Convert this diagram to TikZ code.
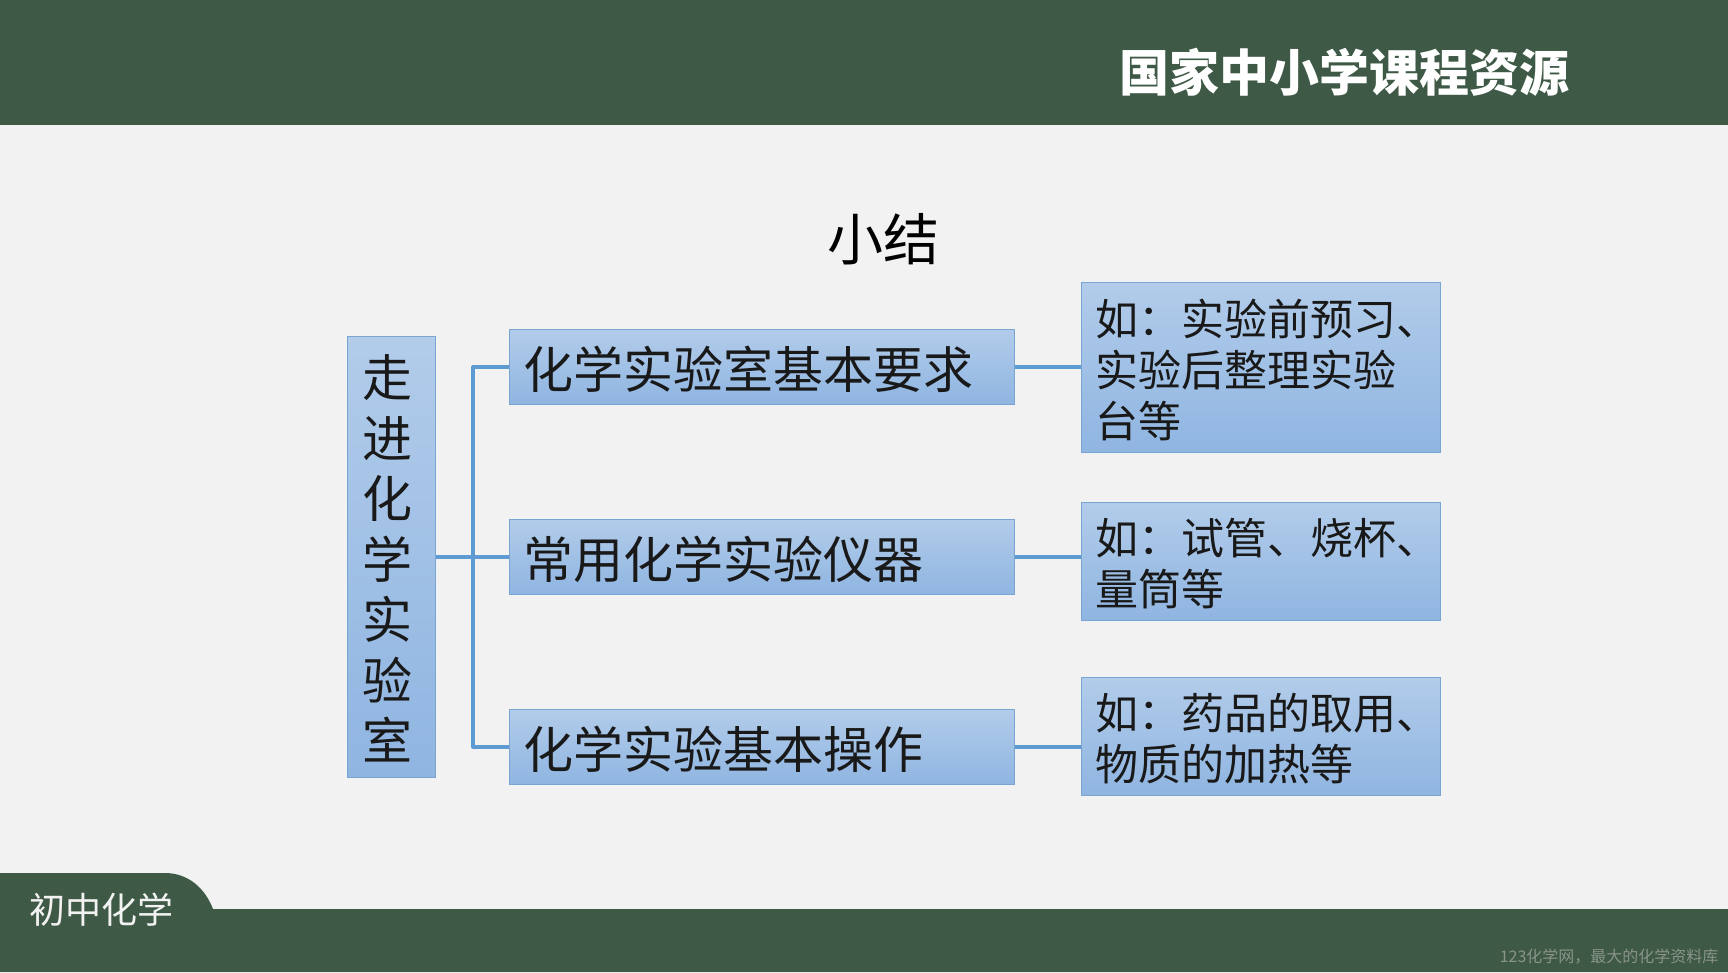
\documentclass[tikz,border=0pt]{standalone}
\usepackage{fontspec}
\setmainfont{Noto Sans CJK SC}

\definecolor{bandgreen}{HTML}{3E5945}
\definecolor{pagegrey}{HTML}{F2F2F2}
\definecolor{boxtop}{HTML}{B2CCEA}
\definecolor{boxbottom}{HTML}{8FB5E1}
\definecolor{boxline}{HTML}{79A5D2}
\definecolor{linkblue}{HTML}{5E9BD2}
\definecolor{markgrey}{HTML}{8A948B}

\tikzset{
    bluebox/.style={draw=boxline,line width=1pt,top color=boxtop,bottom color=boxbottom,
        anchor=north west,align=left,inner sep=0pt,text=black!90},
    drop/.style={execute at end node={\par\kern -#1}},
    bigtext/.style={font=\fontsize{50}{60.5}\selectfont},
    smalltext/.style={font=\fontsize{43}{51}\selectfont,drop=5pt},
    link/.style={draw=linkblue,line width=4pt,line join=round},
}

\begin{document}
\begin{tikzpicture}[x=1pt,y=-1pt]

\useasboundingbox (0,0) rectangle (1728,972);
\fill [pagegrey] (0,0) rectangle (1728,972);
\fill [bandgreen] (0,0) rectangle (1728,125);
\fill [bandgreen]
    (0,873) -- (165,873) .. controls (188,873) and (205,888) .. (213,909)
    -- (1728,909) -- (1728,972) -- (0,972) -- cycle
;

\node (brand) at (1344,72) [text=white,font=\fontsize{50}{50}\selectfont\bfseries] {国家中小学课程资源};
\node (title) at (883,239) [text=black,font=\fontsize{56}{56}\selectfont] {小结};
\node (course) at (101,910) [text=pagegrey,font=\fontsize{36}{36}\selectfont] {初中化学};
\node (mark) [anchor=east,text=markgrey,font=\fontsize{16}{16}\selectfont] at (1722,957) {123化学网，最大的化学资料库};

\node (root) at (347,336) [bluebox,bigtext,drop=3pt,minimum width=88pt,minimum height=441pt,text width=58pt] {走\\进\\化\\学\\实\\验\\室};

\node (req) at (509,329) [bluebox,bigtext,drop=7pt,minimum width=505pt,minimum height=75pt,text width=478pt] {化学实验室基本要求};
\node (tool) at (509,519) [bluebox,bigtext,drop=7pt,minimum width=505pt,minimum height=75pt,text width=478pt] {常用化学实验仪器};
\node (oper) at (509,709) [bluebox,bigtext,drop=7pt,minimum width=505pt,minimum height=75pt,text width=478pt] {化学实验基本操作};

\node (reqnote) at (1081,282) [bluebox,smalltext,minimum width=359pt,minimum height=170pt,text width=332pt] {如：实验前预习、\\实验后整理实验\\台等};
\node (toolnote) at (1081,502) [bluebox,smalltext,minimum width=359pt,minimum height=118pt,text width=332pt] {如：试管、烧杯、\\量筒等};
\node (opernote) at (1081,677) [bluebox,smalltext,minimum width=359pt,minimum height=118pt,text width=332pt] {如：药品的取用、\\物质的加热等};

\coordinate (trunk) at (473,556);

\path [link]
    (root.east |- tool.west) -- (tool.west)
    (req.west) -- (trunk |- req.west) -- (trunk |- oper.west) -- (oper.west)
    (req.east) -- (req.east -| reqnote.west)
    (tool.east) -- (tool.east -| toolnote.west)
    (oper.east) -- (oper.east -| opernote.west)
;

\end{tikzpicture}
\end{document}
